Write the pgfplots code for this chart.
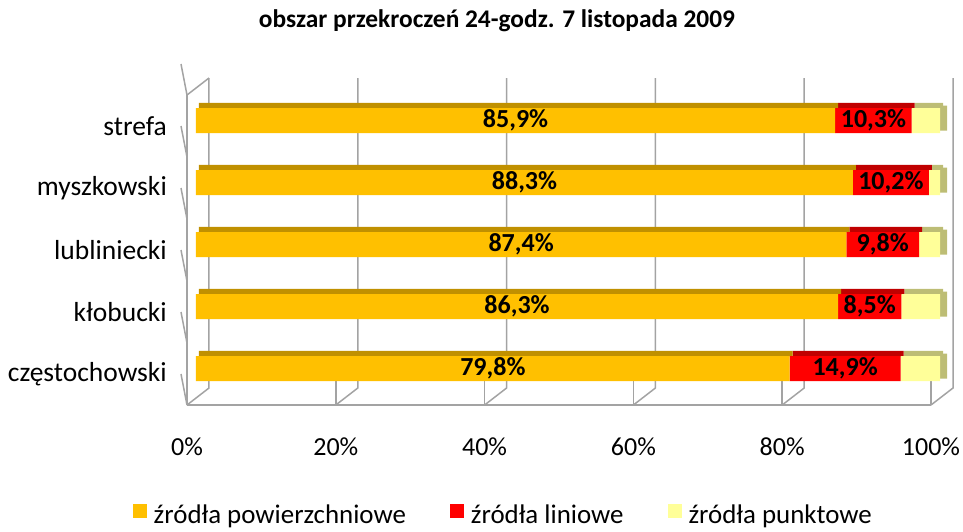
\documentclass[border=0pt]{standalone}
\usepackage{pgfplots}
\usepackage{pgfplotstable}
\pgfplotsset{compat=1.18}
\usepackage{fontspec}
\setmainfont{Carlito}
\definecolor{c1}{HTML}{FFC000}
\definecolor{c2}{HTML}{FF0000}
\definecolor{c3}{HTML}{FFFF99}
\definecolor{c1d}{HTML}{C09000}
\definecolor{c2d}{HTML}{C00000}
\definecolor{c3d}{HTML}{BDBD75}
\definecolor{gridc}{HTML}{A3A3A3}

\pgfplotstableread{
cat pow lin pun
0 79.8 14.9 5.3
1 86.3 8.5 5.2
2 87.4 9.8 2.8
3 88.3 10.2 1.5
4 85.9 10.3 3.8
}\datatab

\pgfplotsset{
  base/.style={
    scale only axis, width=744pt, height=310pt, anchor=south west,
    xmin=0, xmax=100, ymin=-0.5, ymax=4.5, clip=false,
  },
  hid/.style={base, hide axis, xbar stacked},
}
\newcommand{\lbl}{\fontsize{26}{30}\selectfont}

\begin{document}
\begin{tikzpicture}
\useasboundingbox (-187pt,-126pt) rectangle (776pt,405pt);
% frame
\begin{axis}[base, at={(0pt,0pt)},
  axis x line*=bottom, axis y line*=left,
  axis line style={gridc, line width=1.5pt},
  major tick length=0pt,
  xtick={0,20,40,60,80,100},
  xticklabels={0\%,20\%,40\%,60\%,80\%,100\%},
  ytick={0,1,2,3,4},
  yticklabels={częstochowski,kłobucki,lubliniecki,myszkowski,strefa},
  tick label style={inner sep=0pt},
  xticklabel style={font=\lbl, anchor=base, yshift=-50pt},
  yticklabel style={font=\fontsize{27.5}{32}\selectfont, anchor=east, xshift=-20pt},
]
\pgfplotsinvokeforeach{0,20,40,60,80,100}{
  \draw[gridc, line width=1.5pt] (axis cs:#1,-0.5) -- ++(0,-6pt);
  \draw[gridc, line width=1.5pt] (axis cs:#1,-0.5) -- ++(22pt,17pt) -- ++(0pt,310pt);
}
\pgfplotsinvokeforeach{-0.5,0.5,1.5,2.5,3.5,4.5}{
  \draw[gridc, line width=1.5pt] (axis cs:0,#1) -- ++(-6pt,0);
}
\draw[gridc, line width=1.5pt] (axis cs:0,4.5) -- ++(22pt,17pt);
\end{axis}
% top faces
\begin{axis}[hid, at={(12pt,20.5pt)}, bar width=5.5pt]
\addplot[fill=c1d, draw=none] table[x=pow, y=cat] {\datatab};
\addplot[fill=c2d, draw=none] table[x=lin, y=cat] {\datatab};
\addplot[fill=c3d, draw=none] table[x=pun, y=cat] {\datatab};
\end{axis}
% side faces
\begin{axis}[hid, at={(9pt,8pt)}, bar width=25pt]
\addplot[fill=none, draw=none] table[x expr=\thisrow{pow}+\thisrow{lin}+\thisrow{pun}, y=cat] {\datatab};
\addplot[fill=c3d, draw=none] coordinates {(0.94,0) (0.94,1) (0.94,2) (0.94,3) (0.94,4)};
\end{axis}
% front faces
\begin{axis}[hid, at={(9pt,5.5pt)}, bar width=25pt,
  legend style={at={(0.413,-0.372)}, anchor=center, draw=none,
    font=\fontsize{26.9}{30}\selectfont,
    legend columns=3, /tikz/every even column/.append style={column sep=42pt},
    legend cell align=left},
  legend image code/.code={\fill[#1] (0pt,-3pt) rectangle (14pt,11pt);},
]
\addplot[fill=c1, draw=none] table[x=pow, y=cat] {\datatab};
\addplot[fill=c2, draw=none] table[x=lin, y=cat] {\datatab};
\addplot[fill=c3, draw=none] table[x=pun, y=cat] {\datatab};
\legend{\hspace{5pt}źródła powierzchniowe, \hspace{5pt}źródła liniowe, \hspace{5pt}źródła punktowe}
\end{axis}
% data labels
\begin{axis}[base, hide axis, at={(9pt,5.5pt)},
  /pgf/number format/assume math mode=true]
\addplot[draw=none, no markers, point meta=explicit,
  nodes near coords={\pgfmathprintnumber[fixed,fixed zerofill,precision=1,use comma]{\pgfplotspointmeta}\%},
  every node near coord/.append style={font=\bfseries\fontsize{26}{30}\selectfont, text=black, anchor=center}]
  table[x expr=\thisrow{pow}/2, y=cat, meta=pow] {\datatab};
\addplot[draw=none, no markers, point meta=explicit,
  nodes near coords={\pgfmathprintnumber[fixed,fixed zerofill,precision=1,use comma]{\pgfplotspointmeta}\%},
  every node near coord/.append style={font=\bfseries\fontsize{26}{30}\selectfont, text=black, anchor=center}]
  table[x expr=\thisrow{pow}+\thisrow{lin}/2, y=cat, meta=lin] {\datatab};
\end{axis}
\node[font=\bfseries\fontsize{25.4}{29}\selectfont] at (310pt,384pt) {obszar przekroczeń 24-godz. 7 listopada 2009};
\end{tikzpicture}
\end{document}
